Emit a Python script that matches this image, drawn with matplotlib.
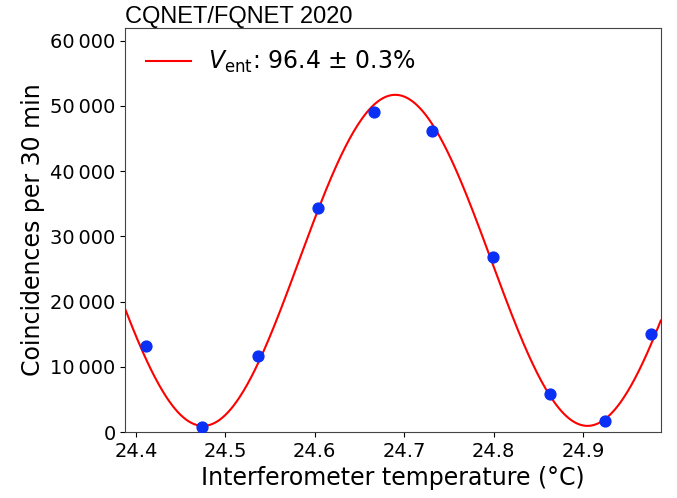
import numpy as np
import matplotlib
matplotlib.use("Agg")
import matplotlib.pyplot as plt
from matplotlib.ticker import FuncFormatter

# Measured coincidences vs interferometer temperature
temperature = [24.411, 24.474, 24.536, 24.604, 24.666, 24.731, 24.799, 24.863, 24.925, 24.976]
coincidences = [13200, 800, 11700, 34400, 49100, 46200, 26900, 5800, 1700, 15000]

# Sinusoidal fit parameters (offset, amplitude, period, peak position)
fit_offset = 26320
fit_amplitude = 25380
fit_period = 0.43
fit_peak = 24.69

x_ticks = [24.4, 24.5, 24.6, 24.7, 24.8, 24.9]
y_ticks = [0, 10000, 20000, 30000, 40000, 50000, 60000]

fig = plt.figure(figsize=(6.77, 4.98), dpi=100)
ax = fig.add_axes([0.185, 0.1325, 0.791, 0.812])

x_fit = np.linspace(24.388, 24.987, 400)
y_fit = fit_offset + fit_amplitude * np.cos(2 * np.pi * (x_fit - fit_peak) / fit_period)

ax.plot(x_fit, y_fit, color='red', lw=1.5, label=r'$V_{\rm ent}$: 96.4 $\pm$ 0.3%')
ax.plot(temperature, coincidences, 'o', color='#0a2ff5', markersize=7.8, zorder=3)

ax.set_xlim(24.388, 24.987)
ax.set_ylim(0, 62000)
ax.set_xticks(x_ticks)
ax.set_yticks(y_ticks)
ax.yaxis.set_major_formatter(FuncFormatter(lambda v, p: f"{int(v):,}".replace(",", "\u2009")))
ax.tick_params(labelsize=14)

ax.set_xlabel("Interferometer temperature (°C)", fontsize=17)
ax.set_ylabel("Coincidences per 30 min", fontsize=17)
ax.set_title("CQNET/FQNET 2020", loc='left', fontsize=17, family='Liberation Sans', pad=3)

ax.legend(loc='upper left', frameon=False, fontsize=17, handlelength=1.9, handletextpad=0.7)

for s in ax.spines.values():
    s.set_color('#444444')

fig.savefig("out.png", dpi=100)
